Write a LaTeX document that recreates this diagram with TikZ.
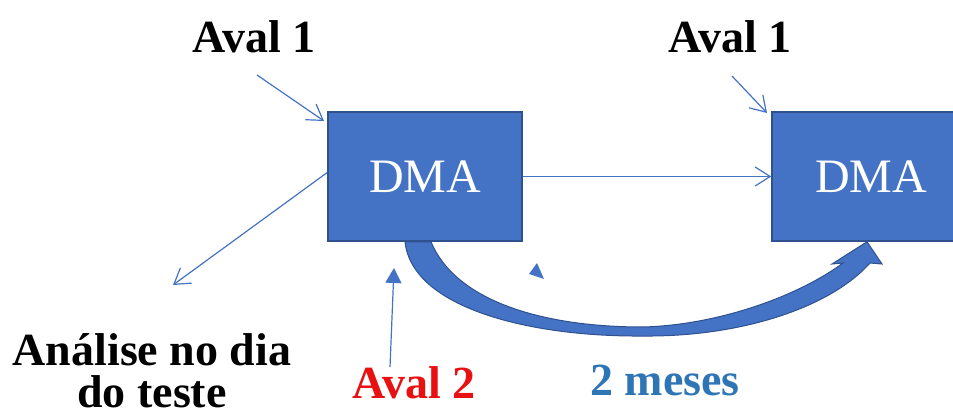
\documentclass[tikz,border=0pt]{standalone}
\usepackage{fontspec}
\setmainfont{Liberation Serif}
\usetikzlibrary{positioning}
\usetikzlibrary{arrows.meta}

\definecolor{dmablue}{HTML}{4472C4}
\definecolor{dmaedge}{HTML}{2F528F}
\definecolor{mesesblue}{HTML}{2E75B6}
\definecolor{avalred}{HTML}{E81010}

\begin{document}
\begin{tikzpicture}[x=1pt,y=-1pt,
        dmabox/.style={draw=dmaedge, line width=1.5pt, fill=dmablue, text=white,
            minimum height=129pt, inner sep=0pt, font=\fontsize{48}{48}\selectfont},
        note/.style={inner sep=0pt, anchor=base, align=center,
            font=\fontsize{46}{42}\selectfont\bfseries},
        pointer/.style={draw=dmablue, line width=1.2pt,
            -{Straight Barb[length=15pt,width=19pt]}},
    ]
        \clip (0,0) rectangle (953,414);

        \node[dmabox, minimum width=194pt] (dmaL) at (425,176.5) {DMA};
        \node[dmabox, minimum width=198pt] (dmaR) at (871,176.5) {DMA};

        \node[note] (aval1L) at (254,53) {Aval 1};
        \node[note] (aval1R) at (730,53) {Aval 1};
        \node[note] (analise) at (152,407) {Análise no dia\\do teste};
        \node[note, text=avalred] (aval2) at (414,398) {Aval 2};
        \node[note, text=mesesblue] (meses) at (665,395) {2 meses};

        \coordinate (a1Ls) at (257,75);
        \coordinate (a1Le) at (324,121);
        \coordinate (a1Rs) at (732,76);
        \coordinate (a1Re) at (767,113);
        \coordinate (diaE) at (173,285);
        \coordinate (a2s) at (390,367);
        \coordinate (a2e) at (394,268);

        \draw[pointer] (a1Ls) -- (a1Le);
        \draw[pointer] (a1Rs) -- (a1Re);
        \draw[pointer] (dmaL.east) -- (dmaR.west);
        \draw[pointer] ([yshift=4pt]dmaL.west) -- (diaE);
        \draw[draw=dmablue, line width=1.2pt,
            -{Triangle[length=15pt,width=16pt]}] (a2s) -- (a2e);

        % curved arrow of the two months
        \filldraw[fill=dmablue, draw=dmaedge, line width=1pt]
            ([xshift=-20pt]dmaL.south) .. controls (412,308) and (530,337) .. (643,336)
            .. controls (740,337) and (830,308) .. (870,263)
            -- (882,264) -- ([xshift=-4pt]dmaR.south) -- (832,264) -- (843,263)
            .. controls (800,295) and (720,325) .. (643,327)
            .. controls (540,327) and (455,300) .. ([xshift=6pt]dmaL.south) -- cycle;
        \fill[dmablue] (537,263) -- (529,274) -- (544,279) -- cycle;

    \end{tikzpicture}
\end{document}
